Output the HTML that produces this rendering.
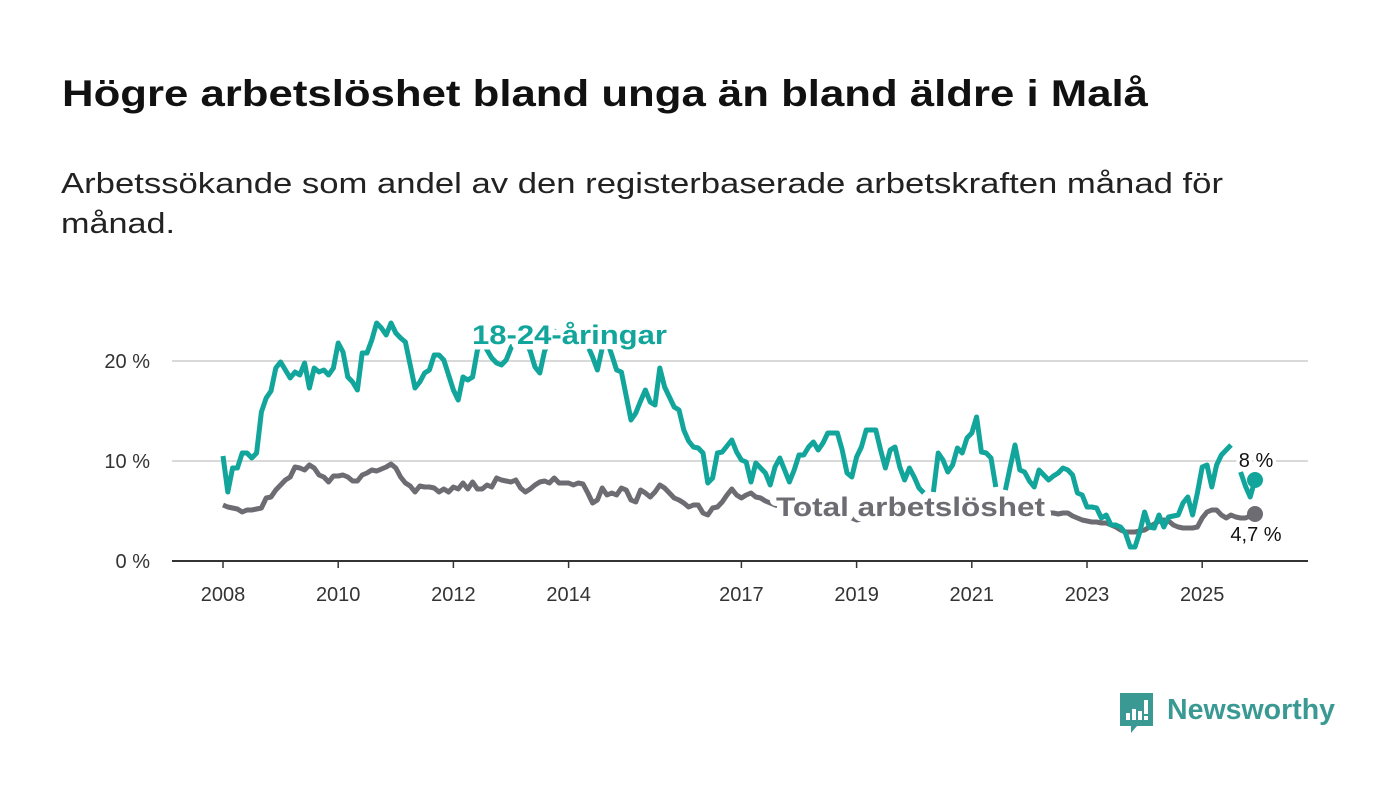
<!DOCTYPE html>
<html><head><meta charset="utf-8">
<style>
html,body{margin:0;padding:0;background:#fff;}
svg{display:block;font-family:"Liberation Sans",sans-serif;}
.halo{paint-order:stroke;stroke:#fff;stroke-width:7px;stroke-linejoin:round;}
.halo2{paint-order:stroke;stroke:#fff;stroke-width:11px;stroke-linejoin:round;}
</style></head>
<body>
<svg id="chart" width="1400" height="794" viewBox="0 0 1400 794">
  <text x="62" y="106" font-size="37" font-weight="bold" fill="#111" textLength="1086" lengthAdjust="spacingAndGlyphs">Högre arbetslöshet bland unga än bland äldre i Malå</text>
  <text x="61" y="193" font-size="29" fill="#222" textLength="1162" lengthAdjust="spacingAndGlyphs">Arbetssökande som andel av den registerbaserade arbetskraften månad för</text>
  <text x="61" y="233" font-size="29" fill="#222" textLength="114" lengthAdjust="spacingAndGlyphs">månad.</text>
  <g id="grid"></g>
  <g id="xaxis"></g>
  <g id="series"></g>
  <g id="labels"></g>
  <g>
    <path d="M1120 693 h33 v33 h-16 l-6 7 v-7 h-11 z" fill="#3a9a93"/>
    <rect x="1126" y="713" width="4" height="7" fill="#fff"/>
    <rect x="1132" y="709" width="4" height="11" fill="#fff"/>
    <rect x="1138" y="711" width="4" height="9" fill="#fff"/>
    <rect x="1144" y="700" width="4" height="14" fill="#fff"/>
    <rect x="1144" y="716" width="4" height="4" fill="#fff"/>
    <text x="1167" y="719" font-size="29" font-weight="bold" fill="#3a9a93" textLength="168" lengthAdjust="spacingAndGlyphs">Newsworthy</text>
  </g>
</svg>
<script>
const yTicks = [0, 10, 20];
const yTickLabels = ["0 %", "10 %", "20 %"];
const xTickYears = [2008, 2010, 2012, 2014, 2017, 2019, 2021, 2023, 2025];
const startYear = 2008;
const youth = [
10.5,6.9,9.3,9.3,10.8,10.8,10.3,10.8,14.9,16.3,17,19.3,
19.9,19.1,18.3,18.9,18.6,19.8,17.3,19.3,18.9,19.1,18.6,19.3,
21.8,20.9,18.4,17.9,17.1,20.8,20.8,22.1,23.8,23.3,22.6,23.8,
22.8,22.3,21.9,19.6,17.3,17.9,18.8,19.1,20.6,20.6,20.1,18.6,
17.1,16.1,18.4,18.1,18.4,21.1,22,21.1,20.3,19.8,19.6,20.1,
21.3,22.5,22.8,22,21,19.4,18.8,21,22,23,22.5,23,
22,22.5,23,22,21.5,20.4,19.1,21.3,22,20.6,19.1,18.9,
16.5,14.1,14.8,16,17.1,15.9,15.6,19.3,17.4,16.4,15.4,15.1,
13.1,12,11.4,11.3,10.8,7.8,8.3,10.8,10.9,11.5,12.1,10.9,
10.1,9.9,7.9,9.8,9.3,8.8,7.6,9.4,10.3,9.1,7.9,9.1,
10.6,10.6,11.4,11.9,11.1,11.8,12.8,12.8,12.8,11.1,8.8,8.4,
10.4,11.4,13.1,13.1,13.1,11.1,9.3,11.1,11.4,9.4,8.1,9.3,
8.4,7.3,6.8,null,6.9,10.8,10.1,8.9,9.6,11.3,10.8,12.3,
12.8,14.4,10.9,10.8,10.3,7.4,null,7.1,9.4,11.6,9.1,8.9,
8,7.4,9.1,8.6,8.1,8.5,8.8,9.3,9.1,8.6,6.8,6.6,
5.4,5.4,5.3,4.3,4.6,3.6,3.6,3.4,2.8,1.4,1.4,2.9,
4.9,3.4,3.3,4.6,3.4,4.4,4.5,4.6,5.8,6.4,4.6,6.8,
9.4,9.6,7.4,9.6,10.6,11.1,11.6,null,8.9,7.5,6.4,8.1
];
const total = [
5.6,5.4,5.3,5.2,4.9,5.1,5.1,5.2,5.3,6.3,6.4,7.1,
7.6,8.1,8.4,9.4,9.3,9.1,9.6,9.3,8.6,8.4,7.9,8.5,
8.5,8.6,8.4,8,8,8.6,8.8,9.1,9,9.2,9.4,9.7,
9.3,8.4,7.8,7.5,6.9,7.5,7.4,7.4,7.3,6.9,7.2,6.9,
7.4,7.2,7.8,7.2,7.9,7.2,7.2,7.6,7.4,8.3,8.1,8,
7.9,8.1,7.3,6.9,7.2,7.6,7.9,8.0,7.8,8.3,7.8,7.8,
7.8,7.6,7.8,7.7,6.8,
5.8,6.1,7.3,6.6,6.8,6.6,7.3,7.1,6.1,5.9,7.1,6.8,6.4,6.9,7.6,7.3,6.8,6.3,6.1,5.8,5.4,5.6,5.6,4.8,4.6,5.3,5.4,5.9,6.6,7.2,6.6,6.3,6.6,6.8,6.4,
6.3,6.0,5.8,5.6,5.5,5.4,5.3,5.2,5.1,5.0,5.0,4.9,
5.0,5.1,5.2,5.1,5.0,4.8,4.5,4.3,4.1,4.2,4.4,4.6,
4.8,4.9,5.0,5.1,5.2,5.3,5.3,5.2,5.1,5.0,5.0,4.9,
5.0,5.1,5.2,5.1,5.0,4.9,4.9,4.8,4.9,5.0,5.1,5.0,
4.9,4.9,5.0,5.1,5.0,4.9,4.8,4.8,4.9,4.8,4.8,4.8,
4.8,4.8,4.7,4.8,4.8,4.5,4.3,4.1,4.0,3.9,3.9,3.8,3.8,
3.6,3.4,3.1,2.9,2.9,2.9,3.0,3.1,3.4,3.7,4.0,4.1,4.0,3.6,
3.4,3.3,3.3,3.3,
3.4,4.3,4.9,5.1,5.1,4.6,4.3,4.6,4.4,4.3,4.3,4.5,4.7
];
const endLabels = ["8 %", "4,7 %"];

const NS = "http://www.w3.org/2000/svg";
const x0 = 223, pxPerYear = 57.6, y0 = 561, pxPerPct = 10;
function xScale(i){ return x0 + (i / 12) * pxPerYear; }
function xYear(y){ return x0 + (y - startYear) * pxPerYear; }
function yScale(v){ return y0 - v * pxPerPct; }
function mk(tag, attrs, parent){
  const e = document.createElementNS(NS, tag);
  for (const k in attrs) e.setAttribute(k, attrs[k]);
  parent.appendChild(e); return e;
}
const grid = document.getElementById('grid');
yTicks.forEach((t, i) => {
  const gl = mk('line', {x1:172, x2:1308, y1:yScale(t), y2:yScale(t), stroke: t===0?'#333':'#d9d9d9', 'stroke-width':2}, grid);
  
  
  const tl = mk('text', {x:150, y:yScale(t)+7, 'text-anchor':'end', 'font-size':20, fill:'#333'}, grid);
  tl.textContent = yTickLabels[i];
  
  
});
const xa = document.getElementById('xaxis');
xTickYears.forEach(yr => {
  const tk = mk('line', {x1:xYear(yr), x2:xYear(yr), y1:y0, y2:y0+7, stroke:'#333', 'stroke-width':1.5}, xa);
  
  
  const tl = mk('text', {x:xYear(yr), y:601, 'text-anchor':'middle', 'font-size':20, fill:'#333'}, xa);
  tl.textContent = yr;
  
  
});
function pathFor(arr){
  let d = '', pen = false;
  arr.forEach((v, i) => {
    if (v === null) { pen = false; return; }
    d += (pen ? 'L' : 'M') + xScale(i).toFixed(1) + ' ' + yScale(v).toFixed(1) + ' ';
    pen = true;
  });
  return d;
}
const sg = document.getElementById('series');
const pt = mk('path', {d:pathFor(total), fill:'none', stroke:'#6d6c72', 'stroke-width':5, 'stroke-linejoin':'round'}, sg);


const py = mk('path', {d:pathFor(youth), fill:'none', stroke:'#12a59b', 'stroke-width':5, 'stroke-linejoin':'round'}, sg);


const last = youth.length - 1;
const dy = mk('circle', {cx:xScale(last), cy:yScale(youth[last]), r:8, fill:'#12a59b'}, sg);


const lastT = total.length - 1;
const dt = mk('circle', {cx:xScale(lastT), cy:yScale(total[lastT]), r:8, fill:'#6d6c72'}, sg);



const lg = document.getElementById('labels');
const l1 = mk('text', {x:472, y:344, 'font-size':27, 'font-weight':'bold', fill:'#12a59b', class:'halo2', textLength:195, lengthAdjust:'spacingAndGlyphs'}, lg);
l1.textContent = '18-24-åringar';


const l2 = mk('text', {x:776, y:516, 'font-size':27, 'font-weight':'bold', fill:'#6d6c72', class:'halo2', textLength:269, lengthAdjust:'spacingAndGlyphs'}, lg);
l2.textContent = 'Total arbetslöshet';


const e1 = mk('text', {x:1256, y:467, 'text-anchor':'middle', 'font-size':20, fill:'#111', class:'halo'}, lg);
e1.textContent = endLabels[0];


const e2 = mk('text', {x:1256, y:541, 'text-anchor':'middle', 'font-size':20, fill:'#111', class:'halo'}, lg);
e2.textContent = endLabels[1];


</script>
</body></html>
